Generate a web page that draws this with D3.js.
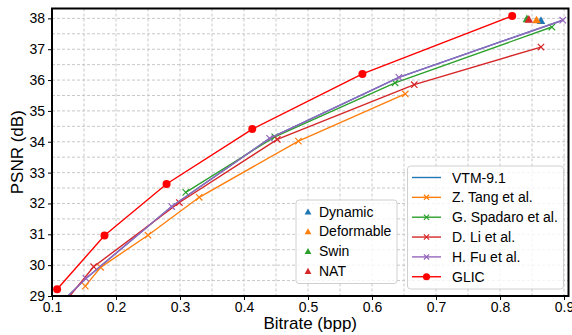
<!DOCTYPE html>
<html><head><meta charset="utf-8">
<script src="https://cdn.jsdelivr.net/npm/d3@7"></script>
<style>body{margin:0;background:#fff}svg{display:block;font-family:"Liberation Sans",Arial,sans-serif}</style>
</head><body>
<svg id="c" width="572" height="335"></svg>
<script>
// ---- data ----
const seriesNames = ["VTM-9.1","Z. Tang et al.","G. Spadaro et al.","D. Li et al.","H. Fu et al.","GLIC"];
const seriesColors = ["#1f77b4","#ff7f0e","#2ca02c","#d62728","#9467bd","#ff0000"];
const seriesMarkers = ["none","x","x","x","x","circle"];
const vtmBpp   = [0.120,0.153,0.287,0.440,0.642,0.898];
const vtmPsnr  = [28.90,29.57,31.90,34.11,36.09,37.94];
const tangBpp  = [0.152,0.176,0.250,0.330,0.485,0.652];
const tangPsnr = [29.32,29.93,30.97,32.20,34.02,35.55];
const spadBpp  = [0.309,0.448,0.636,0.881];
const spadPsnr = [32.36,34.16,35.91,37.72];
const liBpp    = [0.120,0.165,0.299,0.452,0.666,0.864];
const liPsnr   = [28.80,29.95,32.03,34.08,35.85,37.07];
const fuBpp    = [0.120,0.153,0.287,0.440,0.642,0.898];
const fuPsnr   = [28.90,29.57,31.90,34.11,36.09,37.94];
const glicBpp  = [0.108,0.182,0.279,0.413,0.585,0.819];
const glicPsnr = [29.22,30.96,32.63,34.41,36.20,38.08];
const variantNames  = ["Dynamic","Deformable","Swin","NAT"];
const variantColors = ["#1f77b4","#ff7f0e","#2ca02c","#d62728"];
const variantBpp    = [0.864,0.857,0.842,0.845];
const variantPsnr   = [37.92,37.94,37.98,37.96];
const xTicks = [0.1,0.2,0.3,0.4,0.5,0.6,0.7,0.8,0.9];
const yTicks = [29,30,31,32,33,34,35,36,37,38];
const xMinor = [0.15,0.25,0.35,0.45,0.55,0.65,0.75,0.85];
const yMinor = [29.5,30.5,31.5,32.5,33.5,34.5,35.5,36.5,37.5];

const seriesBpp  = [vtmBpp,tangBpp,spadBpp,liBpp,fuBpp,glicBpp];
const seriesPsnr = [vtmPsnr,tangPsnr,spadPsnr,liPsnr,fuPsnr,glicPsnr];

// ---- layout ----
const L=52, R=568.5, T=8.5, B=296;
const x = d3.scaleLinear().domain([0.1,0.907]).range([L,R]);
const y = d3.scaleLinear().domain([29,38.32]).range([B,T]);
const svg = d3.select("#c");

svg.append("defs").append("clipPath").attr("id","clip")
  .append("rect").attr("x",L).attr("y",T).attr("width",R-L).attr("height",B-T);

// grid
const g = svg.append("g");
[...xTicks,...xMinor].forEach(v=>{
  g.append("line").attr("x1",x(v)).attr("x2",x(v)).attr("y1",T).attr("y2",B)
   .attr("stroke","#c8c8c8").attr("stroke-width",1).attr("stroke-dasharray","3,2");
});
[...yTicks,...yMinor].forEach(v=>{
  g.append("line").attr("y1",y(v)).attr("y2",y(v)).attr("x1",L).attr("x2",R)
   .attr("stroke","#c8c8c8").attr("stroke-width",1).attr("stroke-dasharray","3,2");
});

// series
const plot = svg.append("g").attr("clip-path","url(#clip)");
const line = d3.line().x(d=>x(d[0])).y(d=>y(d[1]));
function drawMarker(sel, type, cx, cy, color, s){
  if(type==="x"){
    sel.append("path").attr("d",`M${cx-s},${cy-s}L${cx+s},${cy+s}M${cx-s},${cy+s}L${cx+s},${cy-s}`)
      .attr("stroke",color).attr("stroke-width",1.2).attr("fill","none");
  } else if(type==="circle"){
    sel.append("circle").attr("cx",cx).attr("cy",cy).attr("r",s).attr("fill",color);
  } else if(type==="tri"){
    sel.append("path").attr("d",`M${cx},${cy-s}L${cx+s*0.95},${cy+s*0.7}L${cx-s*0.95},${cy+s*0.7}Z`).attr("fill",color);
  }
}
seriesNames.forEach((n,i)=>{
  const pts = seriesBpp[i].map((b,j)=>[b,seriesPsnr[i][j]]);
  plot.append("path").datum(pts).attr("d",line).attr("fill","none")
    .attr("stroke",seriesColors[i]).attr("stroke-width",1.4);
  pts.forEach(p=>drawMarker(plot, seriesMarkers[i], x(p[0]), y(p[1]), seriesColors[i], seriesMarkers[i]==="circle"?4:3.2));
});
variantNames.forEach((n,i)=>{
  drawMarker(plot,"tri",x(variantBpp[i]),y(variantPsnr[i]),variantColors[i],4.5);
});

// axes
const xa = svg.append("g").attr("transform",`translate(0,${B})`)
  .call(d3.axisBottom(x).tickValues(xTicks).tickFormat(d3.format(".1f")).tickSize(4).tickPadding(2));
const ya = svg.append("g").attr("transform",`translate(${L},0)`)
  .call(d3.axisLeft(y).tickValues(yTicks).tickFormat(d3.format("d")).tickSize(4).tickPadding(3));
[xa,ya].forEach(a=>{
  a.select(".domain").remove();
  a.selectAll(".tick line").attr("stroke","#000").attr("stroke-width",1);
  a.selectAll(".tick text").attr("fill","#000").style("font-size","14px").style("font-family","Liberation Sans, Arial, sans-serif");
});
// spines
svg.append("rect").attr("x",L).attr("y",T).attr("width",R-L).attr("height",B-T)
  .attr("fill","none").attr("stroke","#000").attr("stroke-width",2);

// axis labels
svg.append("text").attr("x",(L+R)/2).attr("y",329).attr("text-anchor","middle")
  .style("font-size","17px").text("Bitrate (bpp)");
svg.append("text").attr("transform",`translate(23,${(T+B)/2}) rotate(-90)`).attr("text-anchor","middle")
  .style("font-size","17px").text("PSNR (dB)");

// legend 1 (variants)
const l1 = svg.append("g");
l1.append("rect").attr("x",296).attr("y",200).attr("width",101).attr("height",83.5).attr("rx",3)
  .attr("fill","#fff").attr("fill-opacity",0.8).attr("stroke","#d0d0d0");
variantNames.forEach((n,i)=>{
  const cy = 211.5 + i*19.8;
  drawMarker(l1,"tri",308,cy+0.5,variantColors[i],3.6);
  l1.append("text").attr("x",319).attr("y",cy+5).style("font-size","14px").text(n);
});

// legend 2 (methods)
const l2 = svg.append("g");
l2.append("rect").attr("x",407.5).attr("y",166).attr("width",156).attr("height",123).attr("rx",3)
  .attr("fill","#fff").attr("fill-opacity",0.8).attr("stroke","#d0d0d0");
seriesNames.forEach((n,i)=>{
  const cy = 177.5 + i*19.85;
  l2.append("line").attr("x1",412).attr("x2",441).attr("y1",cy).attr("y2",cy)
    .attr("stroke",seriesColors[i]).attr("stroke-width",1.4);
  drawMarker(l2, seriesMarkers[i], 426.5, cy, seriesColors[i], seriesMarkers[i]==="circle"?3.6:2.6);
  l2.append("text").attr("x",452).attr("y",cy+5).style("font-size","14px").text(n);
});
</script>
</body></html>
